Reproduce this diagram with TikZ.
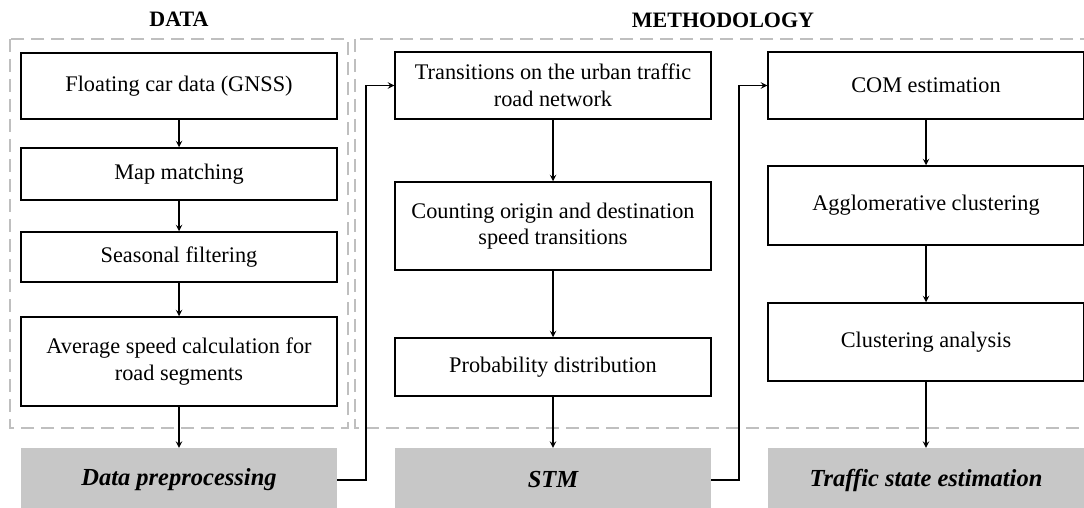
\documentclass[tikz,border=0pt]{standalone}
\usepackage{fontspec}
\setmainfont{Liberation Serif}
\begin{document}
\begin{tikzpicture}
[x=1pt,y=-1pt,
  boxdecorate/.style={shape=rectangle,draw,line width=1.5pt,minimum width=316pt,
    inner sep=0pt,align=center,font=\fontsize{22.3}{26.5}\selectfont},%
  graydecorate/.style={shape=rectangle,fill=black!22,minimum width=316pt,
    minimum height=64pt,inner sep=0pt,font=\fontsize{24.5}{28}\selectfont\bfseries\itshape},
  groupdecorate/.style={draw=black!25,line width=1.5pt,dash pattern=on 13pt off 7pt},
  titledecorate/.style={font=\fontsize{22}{26}\selectfont\bfseries},
  arrowdecorate/.style={->,>=stealth,line width=1.8pt}]
\clip (0,0) rectangle (1084,508);
%% dashed groups and titles
\draw[groupdecorate] (10,39) rectangle (348,428);
\draw[groupdecorate] (355,39) rectangle (1095,428);
\node (datatitle) at (179,19) [titledecorate] {DATA};
\node (methtitle) at (723,20) [titledecorate] {METHODOLOGY};
%% nodes or boxes
\foreach \nodename/\x/\y/\h/\txt in {gnss/179/86/66/{Floating car data (GNSS)},
  mapmatch/179/174/52/{Map matching}, seasonal/179/257/50/{Seasonal filtering},
  avgspeed/179/361.5/89/{Average speed calculation for\\road segments},
  transitions/553/85.5/67/{Transitions on the urban traffic\\road network},
  counting/553/226/88/{Counting origin and destination\\speed transitions},
  probdist/553/367/58/{Probability distribution},
  com/926/85.5/67/{COM estimation},
  agglo/926/205.5/79/{Agglomerative clustering},
  clustan/926/342/78/{Clustering analysis}} {
  \node (\nodename) at (\x,\y) [boxdecorate,minimum height=\h pt] {\txt};
}
\foreach \nodename/\x/\txt in {preproc/179/{Data preprocessing},
  stm/553/{STM}, tse/926/{Traffic state estimation}} {
  \node (\nodename) at (\x,480) [graydecorate] {\txt};
}
%% edges or lines
\foreach \startnode/\endnode in {gnss/mapmatch, mapmatch/seasonal, seasonal/avgspeed,
  avgspeed/preproc, transitions/counting, counting/probdist, probdist/stm,
  com/agglo, agglo/clustan, clustan/tse} {
  \draw[arrowdecorate] (\startnode) -- (\endnode);
}
\draw[arrowdecorate] (preproc.east) -- ++(29,0) |- (transitions.west);
\draw[arrowdecorate] (stm.east) -- ++(28,0) |- (com.west);
\end{tikzpicture}
\end{document}
